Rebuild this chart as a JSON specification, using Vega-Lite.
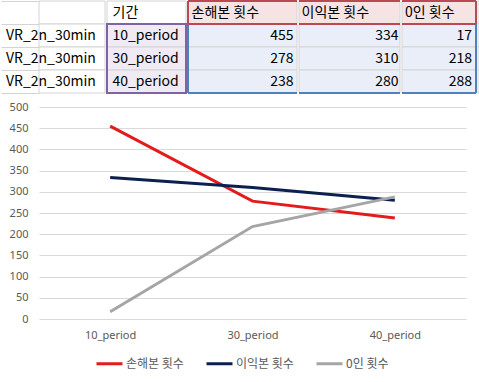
{
  "$schema": "https://vega.github.io/schema/vega-lite/v6.json",
  "background": "white",
  "padding": 0,
  "columns": 1,
  "align": "none",
  "spacing": 7,
  "config": {"view": {"stroke": null}, "font": "Noto Sans CJK KR"},
  "datasets": {
    "cells": [
      {"row": 0, "col": "A", "text": ""},
      {"row": 0, "col": "B", "text": "기간"},
      {"row": 0, "col": "C", "text": "손해본 횟수"},
      {"row": 0, "col": "D", "text": "이익본 횟수"},
      {"row": 0, "col": "E", "text": "0인 횟수"},
      {"row": 0, "col": "F", "text": ""},
      {"row": 1, "col": "A", "text": "VR_2n_30min"},
      {"row": 1, "col": "B", "text": "10_period"},
      {"row": 1, "col": "C", "text": "455"},
      {"row": 1, "col": "D", "text": "334"},
      {"row": 1, "col": "E", "text": "17"},
      {"row": 1, "col": "F", "text": ""},
      {"row": 2, "col": "A", "text": "VR_2n_30min"},
      {"row": 2, "col": "B", "text": "30_period"},
      {"row": 2, "col": "C", "text": "278"},
      {"row": 2, "col": "D", "text": "310"},
      {"row": 2, "col": "E", "text": "218"},
      {"row": 2, "col": "F", "text": ""},
      {"row": 3, "col": "A", "text": "VR_2n_30min"},
      {"row": 3, "col": "B", "text": "40_period"},
      {"row": 3, "col": "C", "text": "238"},
      {"row": 3, "col": "D", "text": "280"},
      {"row": 3, "col": "E", "text": "288"},
      {"row": 3, "col": "F", "text": ""}
    ],
    "series": [
      {"period": "10_period", "series": "손해본 횟수", "value": 455},
      {"period": "30_period", "series": "손해본 횟수", "value": 278},
      {"period": "40_period", "series": "손해본 횟수", "value": 238},
      {"period": "10_period", "series": "이익본 횟수", "value": 334},
      {"period": "30_period", "series": "이익본 횟수", "value": 310},
      {"period": "40_period", "series": "이익본 횟수", "value": 280},
      {"period": "10_period", "series": "0인 횟수", "value": 17},
      {"period": "30_period", "series": "0인 횟수", "value": 218},
      {"period": "40_period", "series": "0인 횟수", "value": 288}
    ]
  },
  "concat": [
    {
      "spacing": 0,
      "hconcat": [
        {
          "width": 66, "height": 92,
          "data": {"name": "cells"},
          "transform": [{"filter": "datum.col == 'A'"}],
          "encoding": {"y": {"field": "row", "type": "ordinal", "scale": {"domain": [0, 1, 2, 3], "paddingInner": 0, "paddingOuter": 0},
            "axis": {"title": null, "domain": false, "labels": false, "ticks": true, "tickSize": 38, "tickColor": "#d4d4d4", "tickBand": "extent", "minExtent": 38, "maxExtent": 38}}},
          "layer": [
            {"mark": {"type": "rect", "stroke": "#d4d4d4", "strokeWidth": 1, "fill": "white"}},
            {"mark": {"type": "text", "align": "left", "dx": -66, "fontSize": 14, "color": "#000000"}, "encoding": {"text": {"field": "text"}}}
          ]
        },
        {
          "width": 79, "height": 92,
          "data": {"name": "cells"},
          "transform": [{"filter": "datum.col == 'B'"}],
          "resolve": {"scale": {"y": "independent"}},
          "layer": [
            {"mark": {"type": "rect", "stroke": "#d4d4d4", "strokeWidth": 1},
             "encoding": {"y": {"field": "row", "type": "ordinal", "axis": null, "scale": {"domain": [0, 1, 2, 3], "paddingInner": 0, "paddingOuter": 0}},
               "fill": {"condition": {"test": "datum.row == 0", "value": "white"}, "value": "#efeaf4"}}},
            {"mark": {"type": "text", "align": "left", "dx": -34, "fontSize": 14, "color": "#000000"},
             "encoding": {"y": {"field": "row", "type": "ordinal", "axis": null, "scale": {"domain": [0, 1, 2, 3], "paddingInner": 0, "paddingOuter": 0}}, "text": {"field": "text"}}},
            {"transform": [{"filter": "datum.row == 0"}],
             "mark": {"type": "rect", "fill": "transparent", "stroke": "#8064a2", "strokeWidth": 2},
             "encoding": {"y": {"datum": 1, "type": "quantitative", "axis": null, "scale": {"domain": [0, 4], "reverse": true}}, "y2": {"datum": 4}}}
          ]
        },
        {
          "width": 109, "height": 92,
          "data": {"name": "cells"},
          "transform": [{"filter": "datum.col == 'C'"}],
          "resolve": {"scale": {"y": "independent"}},
          "layer": [
            {"mark": {"type": "rect", "stroke": "#d4d4d4", "strokeWidth": 1},
             "encoding": {"y": {"field": "row", "type": "ordinal", "axis": null, "scale": {"domain": [0, 1, 2, 3], "paddingInner": 0, "paddingOuter": 0}},
               "fill": {"condition": {"test": "datum.row == 0", "value": "#f6e3e4"}, "value": "#e9eef8"}}},
            {"transform": [{"filter": "datum.row == 0"}], "mark": {"type": "text", "align": "left", "dx": -51, "fontSize": 14, "color": "#000000"},
             "encoding": {"y": {"field": "row", "type": "ordinal", "axis": null, "scale": {"domain": [0, 1, 2, 3], "paddingInner": 0, "paddingOuter": 0}}, "text": {"field": "text"}}},
            {"transform": [{"filter": "datum.row > 0"}], "mark": {"type": "text", "align": "right", "dx": 51, "fontSize": 14, "color": "#000000"},
             "encoding": {"y": {"field": "row", "type": "ordinal", "axis": null, "scale": {"domain": [0, 1, 2, 3], "paddingInner": 0, "paddingOuter": 0}}, "text": {"field": "text"}}},
            {"transform": [{"filter": "datum.row == 0"}], "mark": {"type": "rule", "color": "#4f81bd", "strokeWidth": 2},
             "encoding": {"y": {"datum": 4, "type": "quantitative", "axis": null, "scale": {"domain": [0, 4], "reverse": true}}}},
            {"transform": [{"filter": "datum.row == 0"}], "mark": {"type": "rule", "color": "#4f81bd", "strokeWidth": 2},
             "encoding": {"x": {"datum": 0, "type": "quantitative", "axis": null, "scale": {"domain": [0, 1]}},
               "y": {"datum": 1, "type": "quantitative", "axis": null, "scale": {"domain": [0, 4], "reverse": true}}, "y2": {"datum": 4}}},
            {"transform": [{"filter": "datum.row == 0"}], "mark": {"type": "rule", "color": "#b94a55", "strokeWidth": 2},
             "encoding": {"y": {"datum": 0, "type": "quantitative", "axis": null, "scale": {"domain": [0, 4], "reverse": true}}}},
            {"transform": [{"filter": "datum.row == 0"}], "mark": {"type": "rule", "color": "#b94a55", "strokeWidth": 2},
             "encoding": {"y": {"datum": 1, "type": "quantitative", "axis": null, "scale": {"domain": [0, 4], "reverse": true}}}},
            {"transform": [{"filter": "datum.row == 0"}], "mark": {"type": "rule", "color": "#b94a55", "strokeWidth": 2},
             "encoding": {"x": {"datum": 0, "type": "quantitative", "axis": null, "scale": {"domain": [0, 1]}},
               "y": {"datum": 0, "type": "quantitative", "axis": null, "scale": {"domain": [0, 4], "reverse": true}}, "y2": {"datum": 1}}}
          ]
        },
        {
          "width": 101, "height": 92,
          "data": {"name": "cells"},
          "transform": [{"filter": "datum.col == 'D'"}],
          "resolve": {"scale": {"y": "independent"}},
          "layer": [
            {"mark": {"type": "rect", "stroke": "#d4d4d4", "strokeWidth": 1},
             "encoding": {"y": {"field": "row", "type": "ordinal", "axis": null, "scale": {"domain": [0, 1, 2, 3], "paddingInner": 0, "paddingOuter": 0}},
               "fill": {"condition": {"test": "datum.row == 0", "value": "#f6e3e4"}, "value": "#e9eef8"}}},
            {"transform": [{"filter": "datum.row == 0"}], "mark": {"type": "text", "align": "left", "dx": -48, "fontSize": 14, "color": "#000000"},
             "encoding": {"y": {"field": "row", "type": "ordinal", "axis": null, "scale": {"domain": [0, 1, 2, 3], "paddingInner": 0, "paddingOuter": 0}}, "text": {"field": "text"}}},
            {"transform": [{"filter": "datum.row > 0"}], "mark": {"type": "text", "align": "right", "dx": 49, "fontSize": 14, "color": "#000000"},
             "encoding": {"y": {"field": "row", "type": "ordinal", "axis": null, "scale": {"domain": [0, 1, 2, 3], "paddingInner": 0, "paddingOuter": 0}}, "text": {"field": "text"}}},
            {"transform": [{"filter": "datum.row == 0"}], "mark": {"type": "rule", "color": "#4f81bd", "strokeWidth": 2},
             "encoding": {"y": {"datum": 4, "type": "quantitative", "axis": null, "scale": {"domain": [0, 4], "reverse": true}}}},
            {"transform": [{"filter": "datum.row == 0"}], "mark": {"type": "rule", "color": "#b94a55", "strokeWidth": 2},
             "encoding": {"y": {"datum": 0, "type": "quantitative", "axis": null, "scale": {"domain": [0, 4], "reverse": true}}}},
            {"transform": [{"filter": "datum.row == 0"}], "mark": {"type": "rule", "color": "#b94a55", "strokeWidth": 2},
             "encoding": {"y": {"datum": 1, "type": "quantitative", "axis": null, "scale": {"domain": [0, 4], "reverse": true}}}}
          ]
        },
        {
          "width": 74, "height": 92,
          "data": {"name": "cells"},
          "transform": [{"filter": "datum.col == 'E'"}],
          "resolve": {"scale": {"y": "independent"}},
          "layer": [
            {"mark": {"type": "rect", "stroke": "#d4d4d4", "strokeWidth": 1},
             "encoding": {"y": {"field": "row", "type": "ordinal", "axis": null, "scale": {"domain": [0, 1, 2, 3], "paddingInner": 0, "paddingOuter": 0}},
               "fill": {"condition": {"test": "datum.row == 0", "value": "#f6e3e4"}, "value": "#e9eef8"}}},
            {"transform": [{"filter": "datum.row == 0"}], "mark": {"type": "text", "align": "left", "dx": -34, "fontSize": 14, "color": "#000000"},
             "encoding": {"y": {"field": "row", "type": "ordinal", "axis": null, "scale": {"domain": [0, 1, 2, 3], "paddingInner": 0, "paddingOuter": 0}}, "text": {"field": "text"}}},
            {"transform": [{"filter": "datum.row > 0"}], "mark": {"type": "text", "align": "right", "dx": 33, "fontSize": 14, "color": "#000000"},
             "encoding": {"y": {"field": "row", "type": "ordinal", "axis": null, "scale": {"domain": [0, 1, 2, 3], "paddingInner": 0, "paddingOuter": 0}}, "text": {"field": "text"}}},
            {"transform": [{"filter": "datum.row == 0"}], "mark": {"type": "rule", "color": "#4f81bd", "strokeWidth": 2},
             "encoding": {"y": {"datum": 4, "type": "quantitative", "axis": null, "scale": {"domain": [0, 4], "reverse": true}}}},
            {"transform": [{"filter": "datum.row == 0"}], "mark": {"type": "rule", "color": "#4f81bd", "strokeWidth": 2},
             "encoding": {"x": {"datum": 1, "type": "quantitative", "axis": null, "scale": {"domain": [0, 1]}},
               "y": {"datum": 1, "type": "quantitative", "axis": null, "scale": {"domain": [0, 4], "reverse": true}}, "y2": {"datum": 4}}},
            {"transform": [{"filter": "datum.row == 0"}], "mark": {"type": "rule", "color": "#b94a55", "strokeWidth": 2},
             "encoding": {"y": {"datum": 0, "type": "quantitative", "axis": null, "scale": {"domain": [0, 4], "reverse": true}}}},
            {"transform": [{"filter": "datum.row == 0"}], "mark": {"type": "rule", "color": "#b94a55", "strokeWidth": 2},
             "encoding": {"y": {"datum": 1, "type": "quantitative", "axis": null, "scale": {"domain": [0, 4], "reverse": true}}}},
            {"transform": [{"filter": "datum.row == 0"}], "mark": {"type": "rule", "color": "#b94a55", "strokeWidth": 2},
             "encoding": {"x": {"datum": 1, "type": "quantitative", "axis": null, "scale": {"domain": [0, 1]}},
               "y": {"datum": 0, "type": "quantitative", "axis": null, "scale": {"domain": [0, 4], "reverse": true}}, "y2": {"datum": 1}}}
          ]
        },
        {
          "width": 12, "height": 92,
          "data": {"name": "cells"},
          "transform": [{"filter": "datum.col == 'F'"}],
          "encoding": {"y": {"field": "row", "type": "ordinal", "axis": null, "scale": {"domain": [0, 1, 2, 3], "paddingInner": 0, "paddingOuter": 0}}},
          "layer": [
            {"mark": {"type": "rect", "stroke": "#d4d4d4", "strokeWidth": 1, "fill": "white"}}
          ]
        }
      ]
    },
    {
      "width": 427,
      "height": 212,
      "data": {"name": "series"},
      "mark": {"type": "line", "strokeWidth": 3},
      "encoding": {
        "x": {
          "field": "period", "type": "nominal", "sort": ["10_period", "30_period", "40_period"],
          "scale": {"paddingInner": 0, "paddingOuter": 0},
          "axis": {"title": null, "labelAngle": 0, "domain": false, "ticks": false, "labelPadding": 10, "labelColor": "#595959", "labelFontSize": 11, "labelFont": "Noto Sans"}
        },
        "y": {
          "field": "value", "type": "quantitative",
          "scale": {"domain": [0, 500]},
          "axis": {"title": null, "values": [0, 50, 100, 150, 200, 250, 300, 350, 400, 450, 500], "domain": false, "ticks": false, "gridColor": "#d9d9d9", "labelColor": "#595959", "labelFontSize": 11, "labelFont": "Noto Sans", "labelPadding": 11, "minExtent": 38}
        },
        "color": {
          "field": "series", "type": "nominal",
          "scale": {"domain": ["손해본 횟수", "이익본 횟수", "0인 횟수"], "range": ["#e31b1b", "#0c2050", "#a5a5a5"]},
          "legend": {"title": null, "orient": "none", "legendX": 56, "legendY": 348, "direction": "horizontal", "symbolType": "stroke", "symbolStrokeWidth": 3, "symbolSize": 676, "labelFontSize": 12, "labelColor": "#595959", "columnPadding": 16, "labelOffset": 2}
        }
      }
    }
  ]
}
